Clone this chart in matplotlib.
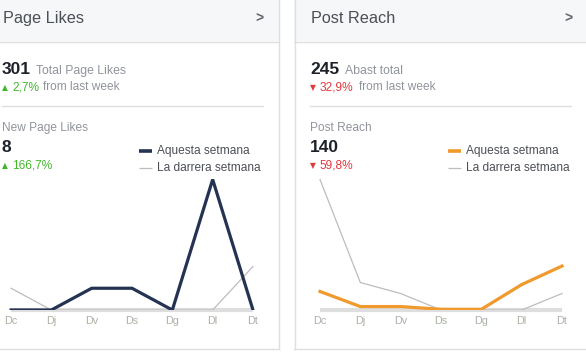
import matplotlib
matplotlib.use("Agg")
import matplotlib.pyplot as plt
from matplotlib.patches import Rectangle

plt.rcParams['font.family'] = ['Liberation Sans', 'DejaVu Sans']

days = ["Dc", "Dj", "Dv", "Ds", "Dg", "Dl", "Dt"]
likes_this_week = [0, 0, 1, 1, 0, 6, 0]
likes_last_week = [1, 0, 0, 0, 0, 0, 2]
reach_this_week = [27, 5, 5, 1, 1, 37, 64]
reach_last_week = [190, 40, 24, 0, 0, 0, 24]
legend_labels = ["Aquesta setmana", "La darrera setmana"]

W, H = 586, 352
fig = plt.figure(figsize=(W / 100, H / 100), dpi=100)
fig.patch.set_facecolor("white")

# overlay axes in pixel coordinates
ov = fig.add_axes([0, 0, 1, 1])
ov.set_xlim(0, W)
ov.set_ylim(H, 0)
ov.axis("off")

BORDER = "#dddfe2"
HEADER_BG = "#f6f7f9"
DARK = "#1d2129"
GRAY = "#90949c"
GREEN = "#42b72a"
RED = "#e0393e"
NAVY = "#253353"
ORANGE = "#f0992d"
LASTW = "#bdbdbd"
TICK = "#a9b2a4"


def card(x0, x1, title, title_x, chev_x):
    ov.add_patch(Rectangle((x0, 0), x1 - x0, 41, facecolor=HEADER_BG, edgecolor="none"))
    ov.plot([x0, x1], [41.5, 41.5], color=BORDER, lw=1)
    ov.plot([x0 + 0.5, x0 + 0.5], [0, 349], color=BORDER, lw=1)
    ov.plot([x1 - 0.5, x1 - 0.5], [0, 349], color=BORDER, lw=1)
    ov.plot([x0, x1], [348.5, 348.5], color=BORDER, lw=1)
    ov.text(title_x, 18.5, title, fontsize=11.7, color="#4b4f56", va="center", ha="left")
    ov.text(chev_x, 18.5, ">", fontsize=10, color="#606770", va="center", ha="left", fontweight="bold")


card(-2, 279, "Page Likes", 3, 255)
card(294, 588, "Post Reach", 311, 564)


def stats(x, big, big_lbl, big_w, up, pct, pct_w, sub_title, sub_big, sub_pct, lx, line_color, line_lw):
    ov.text(x, 70, big, fontsize=12.5, fontweight="bold", color=DARK, va="center", ha="left")
    ov.text(x + big_w, 71, big_lbl, fontsize=8.8, color=GRAY, va="center", ha="left")
    col = GREEN if up else RED
    tri = "\u25B2" if up else "\u25BC"
    ov.text(x, 87.5, tri, fontsize=5.5, color=col, va="center", ha="left", family=["DejaVu Sans"])
    ov.text(x + 10, 87, pct, fontsize=8.6, color=col, va="center", ha="left")
    ov.text(x + 10 + pct_w, 87, "from last week", fontsize=8.6, color=GRAY, va="center", ha="left")
    ov.plot([x, x + 261], [105.5, 105.5], color=BORDER, lw=1)
    ov.text(x, 128, sub_title, fontsize=8.6, color=GRAY, va="center", ha="left")
    ov.text(x, 148, sub_big, fontsize=12.5, fontweight="bold", color=DARK, va="center", ha="left")
    ov.text(x, 165.5, tri, fontsize=5.5, color=col, va="center", ha="left", family=["DejaVu Sans"])
    ov.text(x + 10, 165, sub_pct, fontsize=8.6, color=col, va="center", ha="left")
    # legend
    ov.plot([lx, lx + 13], [151, 151], color=line_color, lw=line_lw, solid_capstyle="butt")
    ov.text(lx + 18, 151, legend_labels[0], fontsize=8.6, color="#4b4f56", va="center", ha="left")
    ov.plot([lx, lx + 13], [168, 168], color=LASTW, lw=0.9, solid_capstyle="butt")
    ov.text(lx + 18, 168, legend_labels[1], fontsize=8.6, color="#4b4f56", va="center", ha="left")


stats(2, "301", "Total Page Likes", 34, True, "2,7%", 31,
      "New Page Likes", "8", "166,7%", 139, NAVY, 2.6)
stats(310, "245", "Abast total", 35, False, "32,9%", 39,
      "Post Reach", "140", "59,8%", 448, ORANGE, 2.6)


def chart(px0, px1, ymax, this_w, last_w, color):
    step = (px1 - px0) / 6
    pad = 8
    left = px0 - pad
    right = px1 + pad
    top_px, base_px = 172, 310
    ax = fig.add_axes([left / W, 1 - base_px / H, (right - left) / W, (base_px - top_px) / H])
    ax.set_xlim(-pad / step, 6 + pad / step)
    ytop = ymax * (base_px - top_px) / (base_px - 179.5)
    ax.set_ylim(0, ytop)
    ax.axis("off")
    x = list(range(len(days)))
    ax.plot([0, 6], [0, 0], color="#dedede", lw=3, clip_on=False, zorder=1, solid_capstyle="butt")
    ax.plot(x, last_w, color=LASTW, lw=0.9, zorder=2)
    ax.plot(x, this_w, color=color, lw=2.3, zorder=3, solid_joinstyle="miter")
    for i, d in enumerate(days):
        ov.text(px0 + i * step, 321.5, d, fontsize=7.8, color=TICK, va="center", ha="center")
    return ax


chart(11, 253, 6, likes_this_week, likes_last_week, NAVY)
chart(320, 562, 190, reach_this_week, reach_last_week, ORANGE)

fig.savefig("out.png", dpi=100, facecolor="white")
